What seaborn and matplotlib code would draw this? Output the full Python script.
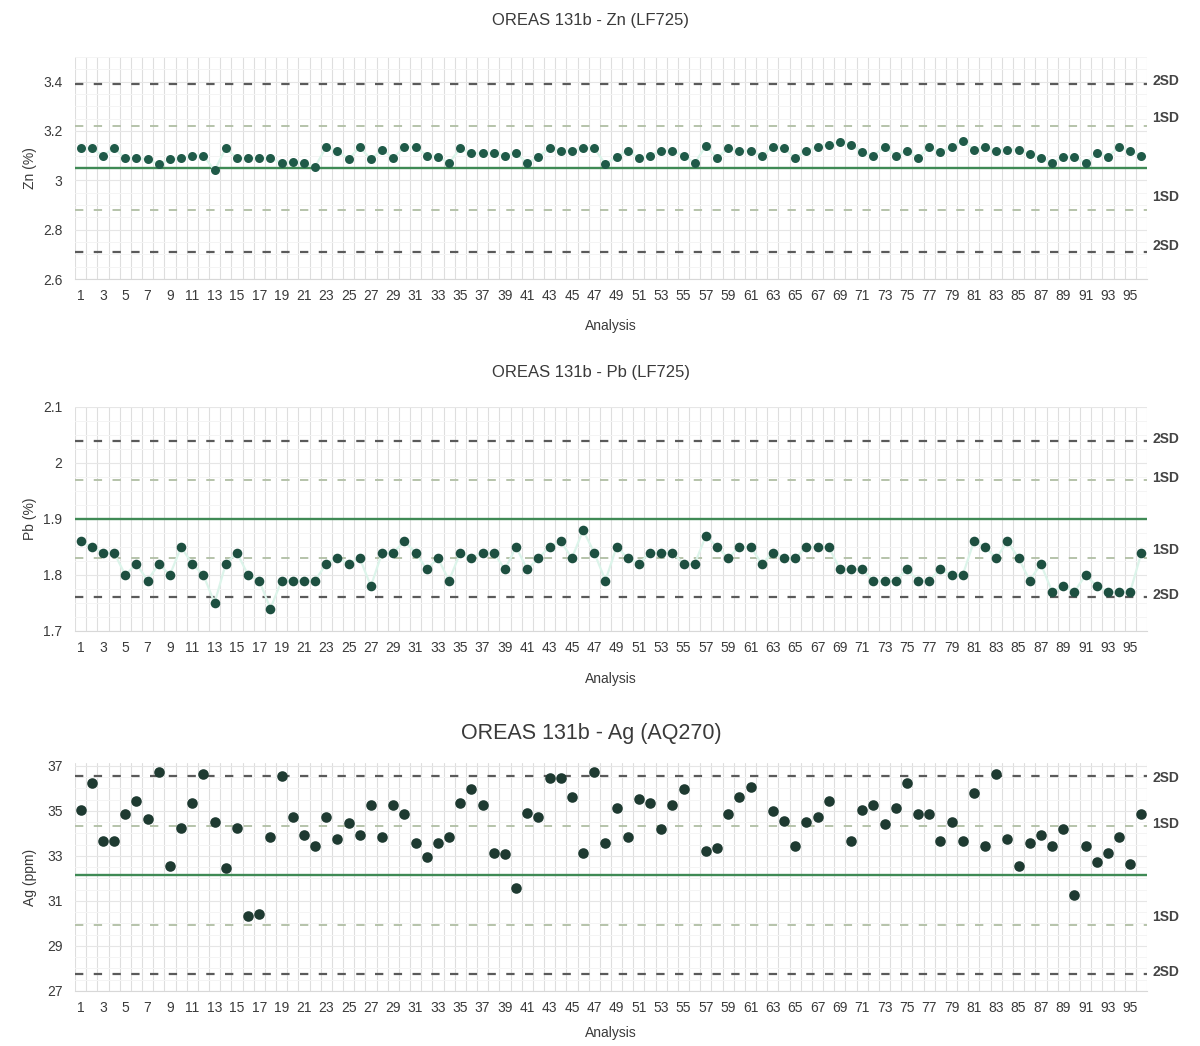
import numpy as np
import pandas as pd
import matplotlib
matplotlib.use("Agg")
import matplotlib.pyplot as plt
import seaborn as sns

# ---------------- data ----------------
analysis = list(range(1, 97))

zn_values = [3.13, 3.13, 3.10, 3.13, 3.09, 3.09, 3.085, 3.065, 3.085, 3.09,
             3.10, 3.10, 3.04, 3.13, 3.09, 3.09, 3.09, 3.09, 3.07, 3.075,
             3.07, 3.055, 3.135, 3.12, 3.085, 3.135, 3.085, 3.125, 3.09, 3.135,
             3.135, 3.10, 3.095, 3.07, 3.13, 3.11, 3.11, 3.11, 3.10, 3.11,
             3.07, 3.095, 3.13, 3.12, 3.12, 3.13, 3.13, 3.065, 3.095, 3.12,
             3.09, 3.10, 3.12, 3.12, 3.10, 3.07, 3.14, 3.09, 3.13, 3.12,
             3.12, 3.10, 3.135, 3.13, 3.09, 3.12, 3.135, 3.145, 3.155, 3.145,
             3.115, 3.10, 3.135, 3.10, 3.12, 3.09, 3.135, 3.115, 3.135, 3.16,
             3.125, 3.135, 3.12, 3.125, 3.125, 3.105, 3.09, 3.07, 3.095, 3.095,
             3.07, 3.11, 3.095, 3.135, 3.12, 3.10]

pb_values = [1.86, 1.85, 1.84, 1.84, 1.80, 1.82, 1.79, 1.82, 1.80, 1.85,
             1.82, 1.80, 1.75, 1.82, 1.84, 1.80, 1.79, 1.74, 1.79, 1.79,
             1.79, 1.79, 1.82, 1.83, 1.82, 1.83, 1.78, 1.84, 1.84, 1.86,
             1.84, 1.81, 1.83, 1.79, 1.84, 1.83, 1.84, 1.84, 1.81, 1.85,
             1.81, 1.83, 1.85, 1.86, 1.83, 1.88, 1.84, 1.79, 1.85, 1.83,
             1.82, 1.84, 1.84, 1.84, 1.82, 1.82, 1.87, 1.85, 1.83, 1.85,
             1.85, 1.82, 1.84, 1.83, 1.83, 1.85, 1.85, 1.85, 1.81, 1.81,
             1.81, 1.79, 1.79, 1.79, 1.81, 1.79, 1.79, 1.81, 1.80, 1.80,
             1.86, 1.85, 1.83, 1.86, 1.83, 1.79, 1.82, 1.77, 1.78, 1.77,
             1.80, 1.78, 1.77, 1.77, 1.77, 1.84]

ag_values = [35.04, 36.23, 33.66, 33.66, 34.86, 35.44, 34.63, 36.72, 32.55, 34.25,
             35.37, 36.64, 34.52, 32.47, 34.25, 30.34, 30.44, 33.85, 36.55, 34.74,
             33.93, 33.44, 34.74, 33.75, 34.45, 33.93, 35.26, 33.85, 35.26, 34.87,
             33.56, 32.96, 33.56, 33.85, 35.37, 35.96, 35.26, 33.14, 33.07, 31.56,
             34.89, 34.74, 36.45, 36.45, 35.64, 33.14, 36.72, 33.56, 35.15, 33.85,
             35.53, 35.37, 34.18, 35.26, 35.96, np.nan, 33.22, 33.34, 34.86, 35.61,
             36.08, np.nan, 35.00, 34.54, 33.46, 34.52, 34.74, 35.46, np.nan, 33.66,
             35.04, 35.26, 34.42, 35.15, 36.26, 34.86, 34.86, 33.66, 34.52, 33.66,
             35.81, 33.44, 36.64, 33.75, 32.55, 33.56, 33.93, 33.44, 34.18, 31.26,
             33.44, 32.74, 33.11, 33.85, 32.64, 34.86]

zn_mean, zn_sd = 3.05, 0.17
pb_mean, pb_sd = 1.90, 0.07
ag_mean, ag_sd = 32.15, 2.2

titles = ["OREAS 131b - Zn (LF725)", "OREAS 131b - Pb (LF725)", "OREAS 131b - Ag (AQ270)"]
ylabels = ["Zn (%)", "Pb (%)", "Ag (ppm)"]
xtick_labels = [str(i) for i in range(1, 97, 2)]

# ---------------- style ----------------
sns.set_theme(style="white")
plt.rcParams["font.family"] = ["Liberation Sans", "DejaVu Sans"]
plt.rcParams["lines.scale_dashes"] = False

TXT = "#3a3a3a"
MEAN_C = "#3f8a55"
SD2_C = "#5a5a5a"
SD1_C = "#b0bea4"

fig = plt.figure(figsize=(12, 10.46), dpi=100)
W, H = 1200.0, 1046.0


def ax_rect(left, top, right, bottom):
    return [left / W, 1 - bottom / H, (right - left) / W, (bottom - top) / H]


panels = [
    dict(values=zn_values, mean=zn_mean, sd=zn_sd, color="#1f5a48", ms=42,
         rect=ax_rect(75, 57, 1147, 279), ylim=(2.6, 3.5),
         yticks=[2.6, 2.8, 3.0, 3.2, 3.4], minor=0.05, connect=True,
         title_y=20, title_size=12, xlabel_y=326,
         lab_off=[3, 8, 13, 6]),
    dict(values=pb_values, mean=pb_mean, sd=pb_sd, color="#1d4f40", ms=48,
         rect=ax_rect(75, 407, 1147, 631), ylim=(1.7, 2.1),
         yticks=[1.7, 1.8, 1.9, 2.0, 2.1], minor=0.025, connect=True,
         title_y=373, title_size=12, xlabel_y=679,
         lab_off=[2, 2, 8, 2]),
    dict(values=ag_values, mean=ag_mean, sd=ag_sd, color="#1e3a31", ms=58,
         rect=ax_rect(75, 763, 1147, 991), ylim=(27, 37.13),
         yticks=[27, 29, 31, 33, 35, 37], minor=0.5, connect=False,
         title_y=733, title_size=15.5, xlabel_y=1033,
         lab_off=[-2, 2, 8, 2]),
]

for i, p in enumerate(panels):
    ax = fig.add_axes(p["rect"])
    df = pd.DataFrame({"Analysis": analysis, "Value": p["values"]})

    ax.set_xlim(0.5, 96.5)
    ax.set_ylim(*p["ylim"])

    # grid lines
    for xb in np.arange(0.5, 97, 1.0):
        ax.axvline(xb, color="#dedede", lw=0.8, zorder=0)
    lo, hi = p["ylim"]
    for yv in np.arange(lo, hi + 1e-9, p["minor"]):
        ax.axhline(yv, color="#f4f4f4", lw=0.7, zorder=0)
    for yv in p["yticks"]:
        ax.axhline(yv, color="#e6e6e6", lw=0.8, zorder=0)

    # reference lines
    m, s = p["mean"], p["sd"]
    ax.axhline(m, color=MEAN_C, lw=1.7, zorder=2)
    for k, c, lw in ((1, SD1_C, 1.3), (2, SD2_C, 1.6)):
        for sign in (1, -1):
            ln = ax.axhline(m + sign * k * s, color=c, lw=lw, zorder=2)
            ln.set_dashes((6.0, 7.5))

    if p["connect"]:
        sns.lineplot(data=df, x="Analysis", y="Value", ax=ax, color="#dcf4ea",
                     lw=1.6, zorder=3, legend=False)
    sns.scatterplot(data=df, x="Analysis", y="Value", ax=ax, color=p["color"],
                    s=p["ms"], linewidth=0, zorder=4, legend=False)

    # ticks
    ax.set_xticks(range(1, 97, 2))
    ax.set_xticklabels(xtick_labels)
    ax.set_yticks(p["yticks"])
    ax.set_yticklabels([f"{v:g}" for v in p["yticks"]])
    ax.tick_params(axis="both", length=0, labelsize=10, colors=TXT)
    ax.tick_params(axis="y", pad=9)
    ax.tick_params(axis="x", pad=7)

    for sp in ("top", "right", "left"):
        ax.spines[sp].set_visible(False)
    ax.spines["bottom"].set_color("#d8d8d8")
    ax.spines["bottom"].set_linewidth(0.8)

    # labels
    ax.set_xlabel("Analysis", fontsize=10, color=TXT)
    ax.set_ylabel(ylabels[i], fontsize=10, color=TXT)
    bottom_px = H - p["rect"][1] * H
    height_px = p["rect"][3] * H
    ax.xaxis.set_label_coords(0.5, -(p["xlabel_y"] - bottom_px) / height_px)
    ax.xaxis.label.set_va("center")
    ax.yaxis.set_label_coords((30 - 75) / 1072.0, 0.5)
    ax.yaxis.label.set_va("center")

    fig.text(591 / W, 1 - p["title_y"] / H, titles[i], ha="center", va="center",
             fontsize=p["title_size"], color=TXT)

    # SD labels on the right
    levels = [m + 2 * s, m + s, m - s, m - 2 * s]
    texts = ["2SD", "1SD", "1SD", "2SD"]
    for lvl, t, off in zip(levels, texts, p["lab_off"]):
        ax.annotate(t, xy=(1.0, lvl), xycoords=ax.get_yaxis_transform(),
                    xytext=(4, off * 0.72), textcoords="offset points",
                    ha="left", va="center", fontsize=10, fontweight="bold",
                    color="#444444", annotation_clip=False)

fig.savefig("out.png", dpi=100)
